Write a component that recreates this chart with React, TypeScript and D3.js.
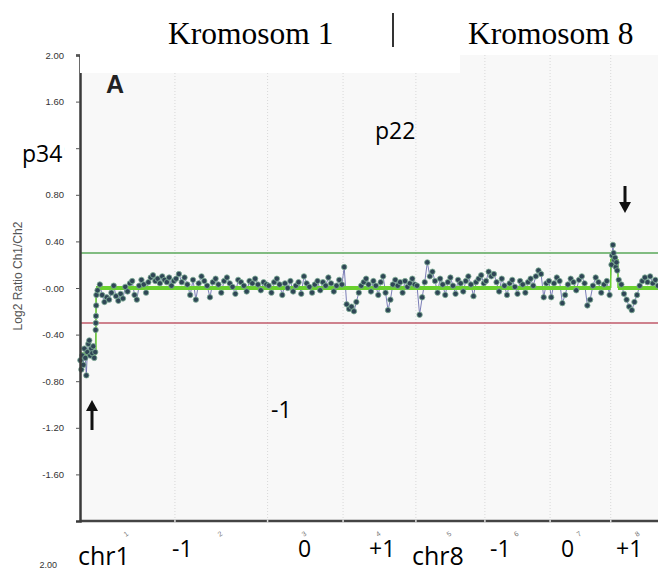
import React, { useEffect, useRef } from "react";
import * as d3 from "d3";

const W = 658;
const H = 571;

// chromosome layout (Mb, cumulative)
const chromNames = ["1", "2", "3", "4", "5", "6", "7", "8"];
const chromStarts = [0, 249, 492, 690, 881, 1062, 1233, 1392];
const chromEnds = [249, 492, 690, 881, 1062, 1233, 1392, 1538];

// log2 ratio values per probe group
const chr1Loss = [-0.62, -0.7, -0.58, -0.66, -0.52, -0.6, -0.75, -0.55, -0.48, -0.45, -0.58, -0.52, -0.56, -0.5, -0.6, -0.55];
const chr1Step = [-0.36, -0.3, -0.24, -0.15, -0.06];
const chr1Rest = [-0.02, 0.03, -0.06, -0.12, -0.08, -0.1, -0.04, 0.02, -0.07, -0.11, -0.05, -0.09, 0.01, -0.03, 0.04, 0.06, -0.06, -0.1, 0.02, 0.07, 0.03, -0.04, 0.05, 0.09, 0.11, 0.06, 0.08, 0.04, 0.1, 0.07, 0.05, 0.09, 0.02, 0.06];
const chr2 = [0.08, 0.12, 0.05, 0.09, 0.03, -0.06, 0.07, -0.1, 0.04, 0.1, 0.06, 0.02, -0.08, 0.05, 0.08, 0.03, -0.04, 0.06, 0.09, 0.04, 0.01, -0.05, 0.07, 0.05, 0.02, -0.03, 0.06, 0.04, 0.08, 0.03, -0.02, 0.05, 0.03];
const chr3 = [0.02, -0.04, 0.05, 0.08, 0.03, -0.06, 0.04, 0.0, 0.06, -0.03, 0.02, 0.05, -0.05, 0.1, 0.04, 0.01, -0.04, 0.03, 0.06, -0.02, 0.05, 0.02, 0.09, 0.04, -0.03, 0.02, 0.07, 0.03];
const chr4 = [0.18, -0.14, -0.18, -0.16, -0.2, -0.12, -0.04, 0.02, 0.05, 0.08, 0.03, -0.03, 0.06, 0.02, -0.06, 0.05, 0.1, -0.04, -0.19, -0.1, 0.03, 0.07, 0.02, 0.05, -0.04, 0.06, 0.01, 0.04, 0.08, 0.03];
const chr5 = [0.02, -0.23, -0.08, 0.05, 0.22, 0.1, 0.14, 0.06, -0.04, 0.08, 0.03, -0.06, 0.05, 0.09, 0.02, -0.05, 0.07, 0.04, -0.03, 0.06, 0.1, 0.03, -0.07, 0.05, 0.08, 0.11, 0.04];
const chr6 = [0.06, 0.14, 0.1, 0.12, 0.05, -0.03, 0.08, 0.02, -0.06, 0.04, 0.07, 0.01, -0.05, 0.06, 0.03, -0.04, 0.05, 0.08, 0.02, 0.1, 0.15, 0.12, -0.08, 0.04, 0.06];
const chr7 = [-0.08, 0.04, 0.09, 0.06, -0.13, -0.06, 0.03, 0.08, 0.05, -0.02, 0.07, 0.1, 0.04, -0.15, -0.1, 0.02, 0.09, 0.05, -0.04, 0.03, 0.06, -0.06];
const chr8Gain = [0.2, 0.28, 0.37, 0.3, 0.24, 0.26, 0.18, 0.22, 0.15];
const chr8Rest = [0.07, 0.03, -0.05, -0.1, -0.16, -0.19, -0.12, -0.06, 0.02, 0.06, 0.09, 0.05, 0.1, 0.04, 0.07, 0.02];

// probe group spans (Mb)
const groupValues = [chr1Loss, chr1Step, chr1Rest, chr2, chr3, chr4, chr5, chr6, chr7, chr8Gain, chr8Rest];
const groupStart = [1, 41, 46, 252, 495, 693, 884, 1065, 1236, 1394, 1413];
const groupEnd = [40, 43, 246, 489, 687, 878, 1059, 1230, 1389, 1409, 1516];

// segmentation
const segStart = [0, 42, 1392, 1411];
const segEnd = [42, 1392, 1411, 1516];
const segValue = [-0.57, 0.0, 0.25, 0.0];

// thresholds
const upperThreshold = 0.3;
const lowerThreshold = -0.3;

const yTickValues = [2.0, 1.6, 1.2, 0.8, 0.4, 0.0, -0.4, -0.8, -1.2, -1.6];
const yTickLabels = ["2.00", "1.60", "1.20", "0.80", "0.40", "-0.00", "-0.40", "-0.80", "-1.20", "-1.60"];

const bottomLabels = ["chr1", "-1", "0", "+1", "chr8", "-1", "0", "+1"];
const bottomLabelX = [78, 172, 298, 369, 412, 490, 561, 616];
const bottomLabelBig = [true, false, false, false, true, false, false, false];

export default function App() {
  const ref = useRef<SVGSVGElement | null>(null);

  useEffect(() => {
    const svg = d3.select(ref.current);
    svg.selectAll("*").remove();

    const x = d3.scaleLinear().domain([0, 1516]).range([80, 658]);
    const y = d3.scaleLinear().domain([-2, 2]).range([521, 55]);

    svg.append("rect").attr("width", W).attr("height", H).attr("fill", "#ffffff");

    // plot background
    svg.append("rect")
      .attr("x", x(0)).attr("y", y(2))
      .attr("width", x(1516) - x(0)).attr("height", y(-2) - y(2))
      .attr("fill", "#f8f8f8");

    // chromosome grid lines
    svg.append("g").selectAll("line")
      .data(chromStarts.slice(1))
      .join("line")
      .attr("x1", (d) => x(d)).attr("x2", (d) => x(d))
      .attr("y1", y(2)).attr("y2", y(-2))
      .attr("stroke", "#d8d8d8").attr("stroke-width", 1)
      .attr("stroke-dasharray", "1,2");

    // thresholds
    svg.append("line")
      .attr("x1", x(0)).attr("x2", x(1516))
      .attr("y1", y(upperThreshold)).attr("y2", y(upperThreshold))
      .attr("stroke", "#5aa85a").attr("stroke-width", 1.5);
    svg.append("line")
      .attr("x1", x(0)).attr("x2", x(1516))
      .attr("y1", y(lowerThreshold)).attr("y2", y(lowerThreshold))
      .attr("stroke", "#c05a6a").attr("stroke-width", 1.5);

    // probes
    type P = { pos: number; v: number };
    const probes: P[] = [];
    groupValues.forEach((vals, gi) => {
      const pos = d3.scaleLinear().domain([0, Math.max(1, vals.length - 1)]).range([groupStart[gi], groupEnd[gi]]);
      vals.forEach((v, i) => probes.push({ pos: pos(i), v }));
    });

    const line = d3.line<P>().x((d) => x(d.pos)).y((d) => y(d.v));
    svg.append("path")
      .datum(probes)
      .attr("d", line)
      .attr("fill", "none")
      .attr("stroke", "#5b5ea6")
      .attr("stroke-width", 0.8);

    // segments
    const segG = svg.append("g");
    segStart.forEach((s, i) => {
      segG.append("line")
        .attr("x1", x(s)).attr("x2", x(segEnd[i]))
        .attr("y1", y(segValue[i])).attr("y2", y(segValue[i]))
        .attr("stroke", "#6ad12e").attr("stroke-width", 4);
      if (i > 0) {
        segG.append("line")
          .attr("x1", x(s)).attr("x2", x(s))
          .attr("y1", y(segValue[i - 1])).attr("y2", y(segValue[i]))
          .attr("stroke", "#6ad12e").attr("stroke-width", 1.5);
      }
    });

    svg.append("g").selectAll("circle")
      .data(probes)
      .join("circle")
      .attr("cx", (d) => x(d.pos))
      .attr("cy", (d) => y(d.v))
      .attr("r", 2.7)
      .attr("fill", "#2f4656")
      .attr("stroke", "#7fae96")
      .attr("stroke-width", 0.8);

    // x axis
    svg.append("line")
      .attr("x1", x(0)).attr("x2", x(1516))
      .attr("y1", y(-2)).attr("y2", y(-2))
      .attr("stroke", "#444").attr("stroke-width", 2.5);
    svg.append("g").selectAll("line")
      .data(chromStarts.slice(1))
      .join("line")
      .attr("x1", (d) => x(d)).attr("x2", (d) => x(d))
      .attr("y1", y(-2) - 1.5).attr("y2", y(-2) + 1.5)
      .attr("stroke", "#dddddd").attr("stroke-width", 1.5);
    svg.append("g").selectAll("text")
      .data(chromNames)
      .join("text")
      .attr("transform", (d, i) => `translate(${x((chromStarts[i] + chromEnds[i]) / 2)},${y(-2) + 15}) rotate(-35)`)
      .attr("text-anchor", "middle")
      .attr("font-family", "Liberation Sans, Arial, sans-serif")
      .attr("font-size", 7)
      .attr("fill", "#777")
      .text((d) => d);

    // y axis
    const yAxis = d3.axisLeft(y)
      .tickValues(yTickValues)
      .tickSize(4)
      .tickPadding(12)
      .tickFormat((d, i) => yTickLabels[i]);
    const ga = svg.append("g").attr("transform", `translate(${x(0)},0)`).call(yAxis);
    ga.select(".domain").attr("stroke", "#3a3a3a").attr("stroke-width", 2.5);
    ga.selectAll(".tick line").attr("stroke", "#555");
    ga.selectAll(".tick text")
      .attr("font-family", "Liberation Sans, Arial, sans-serif")
      .attr("font-size", 9.5)
      .attr("fill", "#333");

    // top white patch
    svg.append("rect").attr("x", 80).attr("y", 50).attr("width", 380).attr("height", 23).attr("fill", "#ffffff");

    svg.append("text")
      .attr("transform", "translate(22,276) rotate(-90)")
      .attr("text-anchor", "middle")
      .attr("font-family", "Liberation Sans, Arial, sans-serif")
      .attr("font-size", 12)
      .attr("fill", "#555")
      .text("Log2 Ratio Ch1/Ch2");

    // panel letter
    svg.append("text")
      .attr("x", 106).attr("y", 93)
      .attr("font-family", "Liberation Sans, Arial, sans-serif")
      .attr("font-weight", "bold")
      .attr("font-size", 25)
      .attr("fill", "#222")
      .text("A");

    // titles
    svg.append("text").attr("x", 168).attr("y", 44)
      .attr("font-family", "Liberation Serif, Times New Roman, serif")
      .attr("font-size", 31.5).attr("fill", "#000").text("Kromosom 1");
    svg.append("line").attr("x1", 393).attr("x2", 393).attr("y1", 13).attr("y2", 47)
      .attr("stroke", "#000").attr("stroke-width", 1.6);
    svg.append("text").attr("x", 468).attr("y", 44)
      .attr("font-family", "Liberation Serif, Times New Roman, serif")
      .attr("font-size", 31.5).attr("fill", "#000").text("Kromosom 8");

    // annotations
    svg.append("rect").attr("x", 20).attr("y", 138).attr("width", 44).attr("height", 30).attr("fill", "#ffffff");
    const ann = [
      { t: "p34", x: 22, y: 162 },
      { t: "p22", x: 375, y: 139 },
      { t: "-1", x: 271, y: 418 },
    ];
    ann.forEach((a) => {
      svg.append("text").attr("x", a.x).attr("y", a.y)
        .attr("font-family", "Open Sans, Noto Sans, sans-serif")
        .attr("font-size", 23).attr("fill", "#000").text(a.t);
    });

    // bottom labels
    bottomLabels.forEach((t, i) => {
      svg.append("text")
        .attr("x", bottomLabelX[i])
        .attr("y", bottomLabelBig[i] ? 565 : 557)
        .attr("font-family", "Open Sans, Noto Sans, sans-serif")
        .attr("font-size", bottomLabelBig[i] ? 25 : 23)
        .attr("fill", "#000")
        .text(t);
    });
    svg.append("text").attr("x", 57).attr("y", 568).attr("text-anchor", "end")
      .attr("font-family", "Liberation Sans, Arial, sans-serif")
      .attr("font-size", 9).attr("fill", "#333").text("2.00");

    // arrows
    const arrow = (cx: number, tipY: number, tailY: number) => {
      const dir = tailY > tipY ? 1 : -1;
      svg.append("line").attr("x1", cx).attr("x2", cx)
        .attr("y1", tipY + dir * 8).attr("y2", tailY)
        .attr("stroke", "#111").attr("stroke-width", 3);
      svg.append("path")
        .attr("d", `M${cx},${tipY} L${cx - 6},${tipY + dir * 11} L${cx + 6},${tipY + dir * 11} Z`)
        .attr("fill", "#111");
    };
    arrow(92, 400, 430);
    arrow(625, 213, 186);
  }, []);

  return (
    <svg
      ref={ref}
      width={W}
      height={H}
      style={{ position: "absolute", left: 0, top: 0, display: "block" }}
    />
  );
}
